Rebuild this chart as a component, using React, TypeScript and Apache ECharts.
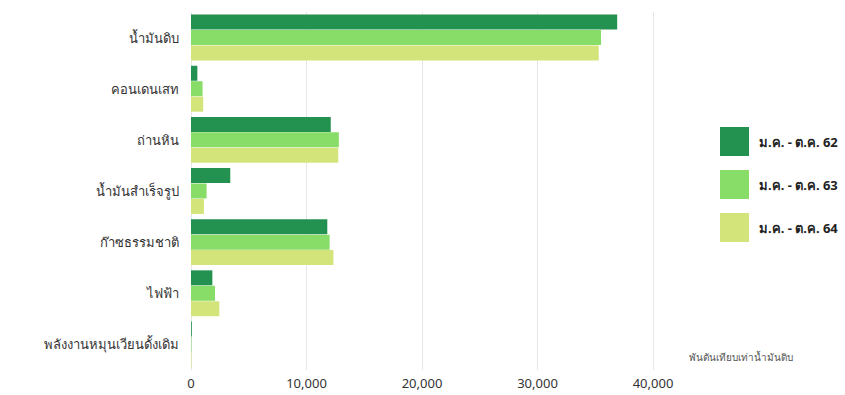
import React, { useEffect, useRef } from "react";
import * as echarts from "echarts";

const categories = [
  "น้ำมันดิบ",
  "คอนเดนเสท",
  "ถ่านหิน",
  "น้ำมันสำเร็จรูป",
  "ก๊าซธรรมชาติ",
  "ไฟฟ้า",
  "พลังงานหมุนเวียนดั้งเดิม",
];
const seriesNames = ["ม.ค. - ต.ค. 62", "ม.ค. - ต.ค. 63", "ม.ค. - ต.ค. 64"];
const values62 = [36900, 550, 12100, 3400, 11800, 1850, 70];
const values63 = [35500, 1000, 12800, 1350, 12000, 2080, 40];
const values64 = [35300, 1060, 12750, 1120, 12330, 2450, 40];
const colors = ["#23914f", "#88dc68", "#d3e57a"];
const unitLabel = "พันตันเทียบเท่าน้ำมันดิบ";

const FONT = "'Noto Sans', 'DejaVu Sans', sans-serif";

export default function App() {
  const ref = useRef<HTMLDivElement>(null);
  useEffect(() => {
    document.body.style.margin = "0";
    if (!ref.current) return;
    const chart = echarts.init(ref.current, null, { renderer: "svg" });
    const data = [values62, values63, values64];
    chart.setOption({
      animation: false,
      backgroundColor: "#ffffff",
      textStyle: { fontFamily: FONT },
      grid: { left: 191, right: 192, top: 12, bottom: 25, containLabel: false },
      legend: {
        orient: "vertical",
        left: 715,
        top: 122,
        itemWidth: 29,
        itemHeight: 29,
        itemGap: 14,
        icon: "rect",
        data: seriesNames,
        textStyle: {
          fontSize: 13,
          fontWeight: "bold",
          color: "#222",
          fontFamily: FONT,
          padding: [0, 0, 0, 5],
        },
      },
      xAxis: {
        type: "value",
        min: 0,
        max: 40000,
        interval: 10000,
        axisLine: { show: false },
        axisTick: { show: false },
        splitLine: { show: true, lineStyle: { color: "#e6e6e6", width: 1 } },
        axisLabel: {
          fontSize: 13,
          color: "#333",
          margin: 6,
          fontFamily: FONT,
          formatter: (v: number) => v.toLocaleString("en-US"),
        },
      },
      yAxis: {
        type: "category",
        inverse: true,
        data: categories,
        axisLine: { show: false },
        axisTick: { show: false },
        axisLabel: { fontSize: 13, color: "#333", margin: 12, fontFamily: FONT },
      },
      series: seriesNames.map((name, i) => ({
        name,
        type: "bar",
        data: data[i],
        barWidth: 15,
        barGap: "3%",
        itemStyle: { color: colors[i] },
      })),
      graphic: [
        {
          type: "text",
          left: 689,
          top: 352,
          style: { text: unitLabel, fontSize: 10, fill: "#555", fontFamily: FONT },
        },
      ],
    });
    return () => chart.dispose();
  }, []);
  return <div ref={ref} style={{ width: 845, height: 395 }} />;
}
